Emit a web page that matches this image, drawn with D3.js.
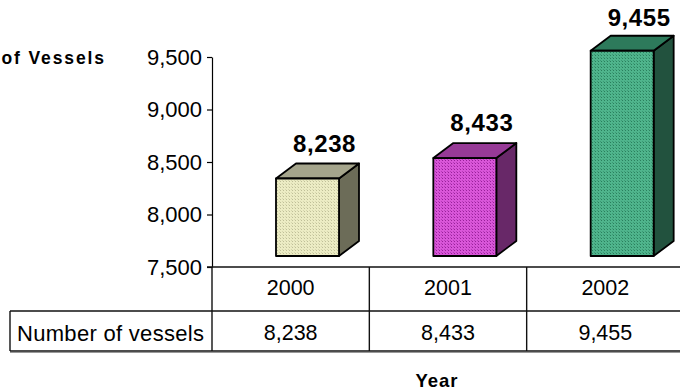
<!DOCTYPE html>
<html>
<head>
<meta charset="utf-8">
<script src="https://cdn.jsdelivr.net/npm/d3@7"></script>
<style>
  html, body { margin: 0; padding: 0; background: #fff; overflow: hidden; }
  svg { display: block; font-family: "Liberation Sans", Arial, sans-serif; }
</style>
</head>
<body>
<svg id="chart" width="680" height="391"></svg>
<script>
// Registered vessels per year
const years = ["2000", "2001", "2002"];
const vessels = [8238, 8433, 9455];
const yTicks = [7500, 8000, 8500, 9000, 9500];
const rowLabel = "Number of vessels";

// Face colours for each box: [front light, front dot, top, side]
const faceColors = [
  ["#ececc4", "#bfbf98", "#a5a58c", "#6c6c58"],
  ["#d956d9", "#98209a", "#973a97", "#682868"],
  ["#4fb48c", "#2a7f5d", "#2d7a5b", "#22523e"]
];

const svg = d3.select("#chart");
const W = 680, H = 391;

const plotLeft = 212, plotRight = 684, plotTop = 57, plotBottom = 267;
const floor = 11;           // front edge of the floor sits above the axis line
const depthX = 20, depthY = -15;
const barOffset = 64, barWidth = 63;

const x = d3.scaleBand().domain(years).range([plotLeft, plotRight]).paddingInner(0).paddingOuter(0);
const y = d3.scaleLinear().domain([7500, 9500]).range([plotBottom, plotTop]);

// dotted fill patterns for the front faces
const defs = svg.append("defs");
faceColors.forEach((c, i) => {
  const p = defs.append("pattern")
    .attr("id", "dots" + i)
    .attr("width", 3).attr("height", 3)
    .attr("patternUnits", "userSpaceOnUse");
  p.append("rect").attr("width", 3).attr("height", 3).attr("fill", c[0]);
  p.append("rect").attr("x", 1).attr("y", 1).attr("width", 1).attr("height", 1).attr("fill", c[1]);
  p.append("rect").attr("x", 0).attr("y", 0).attr("width", 1).attr("height", 1).attr("fill", c[1]).attr("opacity", 0.5);
});

// value axis
const axis = svg.append("g")
  .attr("transform", `translate(${plotLeft},0)`)
  .call(d3.axisLeft(y).tickValues(yTicks).tickFormat(d3.format(",")).tickSize(5).tickSizeOuter(0).tickPadding(5));
axis.select(".domain").attr("stroke", "#000").attr("stroke-width", 1.2);
axis.selectAll(".tick line").attr("stroke", "#000").attr("stroke-width", 1.2);
axis.selectAll(".tick text")
  .attr("font-size", 22).attr("fill", "#000")
  .attr("font-family", "'Liberation Sans', Arial, sans-serif");

// axis title (runs past the left edge of the frame)
svg.append("text")
  .attr("x", 106).attr("y", 64)
  .attr("text-anchor", "end")
  .attr("font-size", 17.5).attr("font-weight", "bold")
  .attr("letter-spacing", 1.9)
  .text("Number of Vessels");

// 3D boxes
const bars = svg.append("g");
years.forEach((yr, i) => {
  const v = vessels[i];
  const x0 = x(yr) + barOffset, x1 = x0 + barWidth;
  const yTop = y(v) - floor, yBot = y(7500) - floor;
  const c = faceColors[i];
  const g = bars.append("g").attr("stroke", "#000").attr("stroke-width", 1.8).attr("stroke-linejoin", "round");
  // side
  g.append("path")
    .attr("d", `M${x1},${yTop}L${x1 + depthX},${yTop + depthY}L${x1 + depthX},${yBot + depthY}L${x1},${yBot}Z`)
    .attr("fill", c[3]);
  // top
  g.append("path")
    .attr("d", `M${x0},${yTop}L${x0 + depthX},${yTop + depthY}L${x1 + depthX},${yTop + depthY}L${x1},${yTop}Z`)
    .attr("fill", c[2]);
  // front
  g.append("rect")
    .attr("x", x0).attr("y", yTop)
    .attr("width", barWidth).attr("height", yBot - yTop)
    .attr("fill", `url(#dots${i})`);
  // value label
  svg.append("text")
    .attr("x", x0 + barWidth / 2 + 17)
    .attr("y", Math.max(yTop - 27, 26))
    .attr("text-anchor", "middle")
    .attr("font-size", 24).attr("font-weight", "bold")
    .attr("letter-spacing", 0.6)
    .text(d3.format(",")(v));
});

// data table
const rowTop = plotBottom, rowMid = 311, rowBot = 351, tableLeft = 10;
const tbl = svg.append("g").attr("stroke", "#111").attr("stroke-width", 1.4).attr("fill", "none");
tbl.append("line").attr("x1", plotLeft - 5).attr("x2", W).attr("y1", rowTop).attr("y2", rowTop);
tbl.append("line").attr("x1", tableLeft).attr("x2", W).attr("y1", rowMid).attr("y2", rowMid);
tbl.append("line").attr("x1", tableLeft).attr("x2", W).attr("y1", rowBot).attr("y2", rowBot);
tbl.append("line").attr("x1", tableLeft).attr("x2", tableLeft).attr("y1", rowMid).attr("y2", rowBot);
[...years.map(d => x(d)), plotRight].forEach(px => {
  tbl.append("line").attr("x1", px).attr("x2", px).attr("y1", rowTop).attr("y2", rowBot);
});
// faint shadow under the table
svg.append("line").attr("x1", tableLeft).attr("x2", W).attr("y1", rowBot + 1.5).attr("y2", rowBot + 1.5)
  .attr("stroke", "#999").attr("stroke-width", 1);

years.forEach((yr, i) => {
  const cx = x(yr) + x.bandwidth() / 2;
  svg.append("text").attr("x", cx).attr("y", 295)
    .attr("text-anchor", "middle").attr("font-size", 21.5).text(yr);
  svg.append("text").attr("x", cx).attr("y", 339.5)
    .attr("text-anchor", "middle").attr("font-size", 21.5).text(d3.format(",")(vessels[i]));
});
svg.append("text").attr("x", 17).attr("y", 340.5).attr("font-size", 22)
  .attr("letter-spacing", 0.3).text(rowLabel);

// category axis title
svg.append("text").attr("x", 437).attr("y", 387)
  .attr("text-anchor", "middle").attr("font-size", 18.5).attr("font-weight", "bold")
  .attr("letter-spacing", 1)
  .text("Year");
</script>
</body>
</html>
